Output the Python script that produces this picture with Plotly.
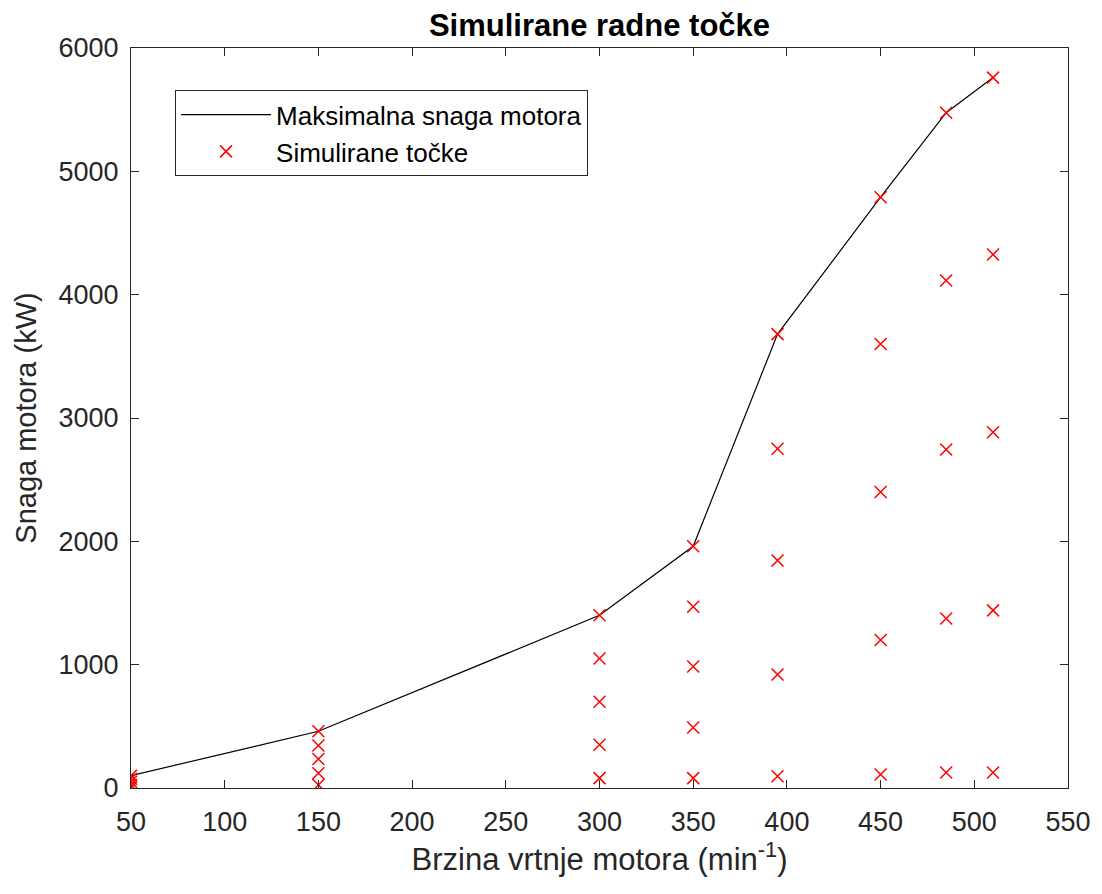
import plotly.graph_objects as go

# Maximum power line
line_speed = [50, 150, 300, 350, 395, 450, 485, 510]
line_power = [100, 460, 1400, 1960, 3680, 4790, 5475, 5760]

# Simulated points
pts_speed = [50]*5 + [150]*5 + [300]*5 + [350]*5 + [395]*5 + [450]*5 + [485]*5 + [510]*5
pts_power = [100, 75, 50, 25, 5,
             460, 345, 235, 120, 25,
             1400, 1050, 700, 350, 80,
             1960, 1470, 985, 490, 80,
             3680, 2750, 1845, 920, 95,
             4790, 3600, 2400, 1200, 110,
             5475, 4115, 2745, 1375, 125,
             5760, 4325, 2885, 1440, 125]

x_ticks = [50, 100, 150, 200, 250, 300, 350, 400, 450, 500, 550]
y_ticks = [0, 1000, 2000, 3000, 4000, 5000, 6000]

FONT = "Liberation Sans, Arial, sans-serif"

fig = go.Figure()
fig.add_trace(go.Scatter(x=line_speed, y=line_power, mode="lines",
                         name="Maksimalna snaga motora",
                         line=dict(color="black", width=1.2)))
fig.add_trace(go.Scatter(x=pts_speed, y=pts_power, mode="markers",
                         name="Simulirane točke",
                         marker=dict(symbol="x-thin", size=12, color="red",
                                     line=dict(color="red", width=1.5))))

axis_common = dict(showgrid=False, zeroline=False, showline=True, linecolor="#262626",
                   linewidth=1, mirror="ticks", ticks="inside", ticklen=8,
                   tickcolor="#262626", automargin=False,
                   tickfont=dict(family=FONT, size=27, color="#262626"))

# page body has an 8px margin, so the figure is a little smaller than the window
fig.update_layout(
    width=1094, height=886,
    paper_bgcolor="white", plot_bgcolor="white",
    margin=dict(l=123, r=34, t=40, b=106),
    title=dict(text="<b>Simulirane radne točke</b>", xref="paper", x=0.5, xanchor="center",
               yref="container", y=0.981, yanchor="middle",
               font=dict(family=FONT, size=31, color="black")),
    xaxis=dict(range=[50, 550], tickvals=x_ticks, ticklabelstandoff=10,
               title=dict(text="Brzina vrtnje motora (min<sup>-1</sup>)", standoff=10,
                          font=dict(family=FONT, size=31, color="#262626")),
               **axis_common),
    yaxis=dict(range=[0, 6000], tickvals=y_ticks, ticklabelstandoff=6,
               title=dict(text="Snaga motora (kW)", standoff=13,
                          font=dict(family=FONT, size=29, color="#262626")),
               **axis_common),
    legend=dict(x=0.047, y=0.943, xanchor="left", yanchor="top",
                bgcolor="white", bordercolor="#262626", borderwidth=1,
                font=dict(family=FONT, size=26, color="black"),
                itemwidth=90, tracegroupgap=0),
    showlegend=True,
)

fig.write_html("out.html")
